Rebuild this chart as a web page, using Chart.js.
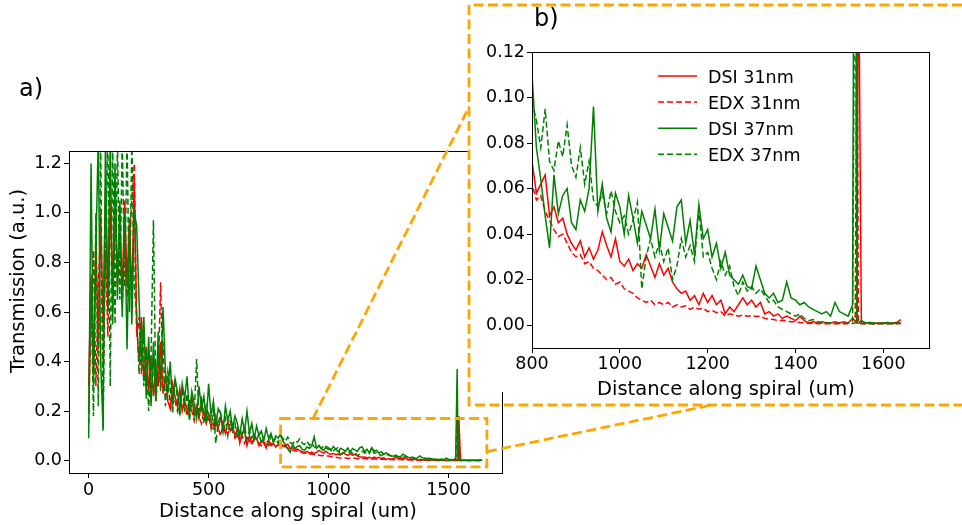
<!DOCTYPE html>
<html>
<head>
<meta charset="utf-8">
<script src="https://cdn.jsdelivr.net/npm/chart.js@4.4.1/dist/chart.umd.min.js"></script>
<style>
  html, body { margin: 0; padding: 0; background: #fff; }
  body { width: 962px; height: 525px; position: relative; overflow: hidden; font-family: "DejaVu Sans", sans-serif; color: #000; }
  canvas { position: absolute; display: block; }
  #mainChart { left: 0; top: 0; }
  #insetChart { left: 469px; top: 0; }
  #guides { left: 0; top: 0; pointer-events: none; }
  .txt { position: absolute; white-space: nowrap; line-height: 1; }
  .tag { font-size: 24px; }
  .axis-title { font-size: 19.5px; }
  #ylabel { left: 8px; top: 373px; transform: rotate(-90deg); transform-origin: 0 0; }
</style>
</head>
<body>
<canvas id="mainChart" width="962" height="525"></canvas>
<canvas id="insetChart" width="493" height="405"></canvas>
<canvas id="guides" width="962" height="525"></canvas>
<div class="txt tag" style="left:19px; top:76px;">a)</div>
<div class="txt tag" style="left:534px; top:6px;">b)</div>
<div class="txt axis-title" id="ylabel">Transmission (a.u.)</div>
<div class="txt axis-title" style="left:159px; top:501px;">Distance along spiral (um)</div>
<div class="txt axis-title" style="left:597px; top:379px;">Distance along spiral (um)</div>
<script>
// distance along the spiral, um (extra samples around the 1540 um spike)
const distanceUm = [
  0, 10, 20, 30, 40, 50, 60, 70, 80, 90,
  100, 110, 120, 130, 140, 150, 160, 170, 180, 190,
  200, 210, 220, 230, 240, 250, 260, 270, 280, 290,
  300, 310, 320, 330, 340, 350, 360, 370, 380, 390,
  400, 410, 420, 430, 440, 450, 460, 470, 480, 490,
  500, 510, 520, 530, 540, 550, 560, 570, 580, 590,
  600, 610, 620, 630, 640, 650, 660, 670, 680, 690,
  700, 710, 720, 730, 740, 750, 760, 770, 780, 790,
  800, 810, 820, 830, 840, 850, 860, 870, 880, 890,
  900, 910, 920, 930, 940, 950, 960, 970, 980, 990,
  1000, 1010, 1020, 1030, 1040, 1050, 1060, 1070, 1080, 1090,
  1100, 1110, 1120, 1130, 1140, 1150, 1160, 1170, 1180, 1190,
  1200, 1210, 1220, 1230, 1240, 1250, 1260, 1270, 1280, 1290,
  1300, 1310, 1320, 1330, 1340, 1350, 1360, 1370, 1380, 1390,
  1400, 1410, 1420, 1430, 1440, 1450, 1460, 1470, 1480, 1490,
  1500, 1510, 1520, 1530, 1536, 1540, 1543, 1550, 1560, 1570, 1580, 1590,
  1600, 1610, 1620, 1630, 1640
];

const dsi31 = [
  0.30, 0.75, 0.35, 0.90, 0.45, 1.00, 0.55, 1.10, 0.62, 1.05,
  0.70, 1.10, 0.75, 0.95, 0.68, 1.05, 0.72, 0.98, 0.65, 1.15,
  0.55, 0.40, 0.58, 0.32, 0.46, 0.28, 0.42, 0.26, 0.38, 0.30,
  0.48, 0.27, 0.34, 0.24, 0.21, 0.31, 0.26, 0.22, 0.29, 0.20,
  0.24, 0.21, 0.19, 0.26, 0.18, 0.22, 0.17, 0.23, 0.20, 0.15,
  0.19, 0.16, 0.14, 0.18, 0.13, 0.17, 0.15, 0.11, 0.16, 0.12,
  0.14, 0.10, 0.13, 0.07, 0.11, 0.12, 0.06, 0.10, 0.07, 0.09,
  0.09, 0.06, 0.08, 0.07, 0.05, 0.085, 0.06, 0.07, 0.055, 0.065,
  0.072, 0.058, 0.062, 0.066, 0.048, 0.052, 0.045, 0.047, 0.040, 0.036,
  0.033, 0.037, 0.030, 0.034, 0.029, 0.033, 0.041, 0.035, 0.030, 0.038,
  0.028, 0.026, 0.029, 0.024, 0.027, 0.025, 0.031, 0.026, 0.021, 0.027,
  0.022, 0.025, 0.019, 0.016, 0.014, 0.015, 0.011, 0.013, 0.009, 0.014,
  0.010, 0.013, 0.009, 0.011, 0.005, 0.008, 0.006, 0.009, 0.012, 0.009,
  0.011, 0.008, 0.010, 0.005, 0.006, 0.004, 0.005, 0.003, 0.004, 0.003,
  0.002, 0.004, 0.002, 0.001, 0.0015, 0.001, 0.0015, 0.001, 0.001, 0.0015,
  0.001, 0.0015, 0.001, 0.003, 0.002, 0.002, 0.18, 0.001, 0.001, 0.0012, 0.0008, 0.001,
  0.001, 0.0008, 0.001, 0.0012, 0.0025
];

const edx31 = [
  0.20, 0.55, 0.85, 0.30, 0.70, 0.95, 0.40, 0.85, 0.50, 1.05,
  0.60, 1.00, 0.70, 0.90, 0.62, 1.00, 0.66, 0.90, 1.05, 1.20,
  0.50, 0.58, 0.35, 0.50, 0.30, 0.44, 0.26, 0.40, 0.24, 0.36,
  0.72, 0.30, 0.26, 0.33, 0.22, 0.28, 0.24, 0.20, 0.27, 0.21,
  0.23, 0.18, 0.25, 0.20, 0.16, 0.21, 0.18, 0.15, 0.20, 0.16,
  0.17, 0.14, 0.12, 0.16, 0.13, 0.10, 0.15, 0.12, 0.11, 0.13,
  0.12, 0.09, 0.11, 0.08, 0.10, 0.07, 0.095, 0.08, 0.065, 0.085,
  0.08, 0.07, 0.06, 0.075, 0.065, 0.055, 0.07, 0.06, 0.058, 0.062,
  0.062, 0.055, 0.057, 0.050, 0.046, 0.042, 0.039, 0.040, 0.036, 0.032,
  0.030, 0.031, 0.027, 0.028, 0.025, 0.024, 0.022, 0.020, 0.021, 0.018,
  0.019, 0.016, 0.015, 0.014, 0.012, 0.011, 0.010, 0.011, 0.009, 0.010,
  0.009, 0.010, 0.008, 0.009, 0.008, 0.0085, 0.007, 0.008, 0.007, 0.0075,
  0.006, 0.0065, 0.0055, 0.006, 0.004, 0.005, 0.0045, 0.004, 0.0045, 0.004,
  0.0042, 0.0038, 0.004, 0.003, 0.0028, 0.0025, 0.002, 0.0022, 0.0018, 0.0015,
  0.0015, 0.0012, 0.001, 0.0008, 0.0009, 0.0007, 0.0008, 0.0006, 0.0007, 0.0006,
  0.0006, 0.0007, 0.0006, 0.0008, 0.001, 0.16, 0.001, 0.0006, 0.0007, 0.0006, 0.0005, 0.0006,
  0.0007, 0.0006, 0.0007, 0.0006, 0.0008
];

const dsi37 = [
  0.09, 1.20, 0.30, 0.85, 1.30, 0.40, 0.13, 1.30, 0.60, 1.30,
  0.55, 1.20, 0.65, 1.05, 0.58, 1.00, 0.45, 0.95, 0.55, 1.00,
  0.95, 0.65, 0.38, 0.58, 0.25, 0.50, 0.22, 0.48, 0.24, 0.52,
  0.30, 0.62, 0.36, 0.27, 0.40, 0.22, 0.33, 0.28, 0.20, 0.31,
  0.25, 0.34, 0.19, 0.28, 0.23, 0.17, 0.30, 0.21, 0.26, 0.16,
  0.31, 0.18, 0.24, 0.14, 0.21, 0.19, 0.12, 0.22, 0.16, 0.20,
  0.13, 0.18, 0.15, 0.10, 0.17, 0.12, 0.20, 0.11, 0.15, 0.09,
  0.14, 0.10, 0.12, 0.08, 0.13, 0.09, 0.11, 0.075, 0.10, 0.09,
  0.110, 0.078, 0.064, 0.048, 0.034, 0.066, 0.049, 0.057, 0.060, 0.045,
  0.042, 0.055, 0.050, 0.060, 0.096, 0.050, 0.062, 0.047, 0.041, 0.058,
  0.052, 0.040, 0.057, 0.047, 0.036, 0.050, 0.044, 0.038, 0.051, 0.033,
  0.049, 0.043, 0.037, 0.052, 0.055, 0.036, 0.046, 0.031, 0.053, 0.038,
  0.042, 0.030, 0.036, 0.025, 0.032, 0.022, 0.020, 0.018, 0.022, 0.017,
  0.016, 0.026, 0.020, 0.014, 0.012, 0.014, 0.010, 0.011, 0.019, 0.012,
  0.011, 0.009, 0.010, 0.008, 0.007, 0.006, 0.005, 0.006, 0.004, 0.010,
  0.006, 0.005, 0.004, 0.009, 0.37, 0.001, 0.001, 0.002, 0.001, 0.0012, 0.001, 0.0008,
  0.001, 0.0012, 0.0008, 0.001, 0.001
];

const edx37 = [
  0.15, 0.70, 0.18, 1.00, 0.22, 1.30, 0.12, 0.90, 1.30, 0.30,
  1.30, 0.55, 1.30, 0.65, 1.30, 0.70, 1.30, 0.60, 1.30, 0.70,
  0.60, 0.35, 0.55, 0.30, 0.45, 0.20, 0.42, 0.97, 0.25, 0.45,
  0.28, 0.48, 0.22, 0.36, 0.30, 0.19, 0.33, 0.25, 0.18, 0.29,
  0.21, 0.27, 0.16, 0.24, 0.19, 0.41, 0.17, 0.26, 0.15, 0.22,
  0.18, 0.13, 0.20, 0.07, 0.15, 0.19, 0.12, 0.17, 0.10, 0.16,
  0.12, 0.15, 0.09, 0.13, 0.10, 0.14, 0.085, 0.12, 0.09, 0.11,
  0.08, 0.11, 0.07, 0.095, 0.085, 0.065, 0.10, 0.075, 0.09, 0.07,
  0.098, 0.090, 0.078, 0.095, 0.072, 0.068, 0.081, 0.074, 0.088, 0.070,
  0.065, 0.078, 0.062, 0.072, 0.055, 0.052, 0.058, 0.049, 0.059, 0.050,
  0.045, 0.048, 0.040, 0.046, 0.054, 0.016, 0.030, 0.038, 0.030, 0.036,
  0.028, 0.034, 0.020, 0.026, 0.038, 0.030, 0.035, 0.028, 0.051, 0.030,
  0.032, 0.025, 0.020, 0.028, 0.022, 0.026, 0.017, 0.013, 0.019, 0.015,
  0.017, 0.014, 0.016, 0.013, 0.010, 0.011, 0.008, 0.007, 0.006, 0.005,
  0.004, 0.005, 0.003, 0.002, 0.0025, 0.0015, 0.001, 0.0012, 0.001, 0.0008,
  0.001, 0.0008, 0.001, 0.0015, 0.20, 0.001, 0.0008, 0.0008, 0.0007, 0.0008, 0.0006, 0.0008,
  0.0007, 0.0008, 0.0006, 0.0007, 0.001
];

const seriesLabels = ['DSI 31nm', 'EDX 31nm', 'DSI 37nm', 'EDX 37nm'];
const seriesValues = [dsi31, edx31, dsi37, edx37];
const seriesColors = ['#ff0000', '#ff0000', '#008000', '#008000'];
const seriesDashes = [[], [6, 3], [], [6, 3]];

const mainXTicks = [0, 500, 1000, 1500];
const mainYTicks = [0.0, 0.2, 0.4, 0.6, 0.8, 1.0, 1.2];
const insetXTicks = [800, 1000, 1200, 1400, 1600];
const insetYTicks = [0.00, 0.02, 0.04, 0.06, 0.08, 0.10, 0.12];

// zoomed region marked on the overview plot (data units)
const zoomBox = { xMin: 800, xMax: 1660, yMin: -0.025, yMax: 0.17 };

const guideColor = '#ffa500';
const tickFont = { family: 'DejaVu Sans', size: 17.5 };

function buildDatasets() {
  return seriesLabels.map((label, i) => ({
    label,
    data: distanceUm.map((d, k) => ({ x: d, y: seriesValues[i][k] })),
    borderColor: seriesColors[i],
    borderDash: seriesDashes[i],
    borderWidth: 1.5,
    pointRadius: 0,
    tension: 0,
    fill: false,
    // later series sit on top
    order: seriesLabels.length - i
  }));
}

function axis(min, max, tickValues, fmt, size, pad) {
  return {
    type: 'linear',
    min, max,
    afterBuildTicks: s => { s.ticks = tickValues.map(v => ({ value: v })); },
    afterFit: s => { if (s.isHorizontal()) s.height = size; else s.width = size; },
    grid: { drawOnChartArea: false, tickLength: 5, color: '#000', lineWidth: 1 },
    border: { display: false },
    ticks: { font: tickFont, color: '#000', padding: pad, maxRotation: 0, autoSkip: false, callback: fmt }
  };
}

// black box round the plotting area
const axesFrame = {
  id: 'axesFrame',
  afterDraw(chart) {
    const { ctx, chartArea: a } = chart;
    ctx.save();
    ctx.strokeStyle = '#000';
    ctx.lineWidth = 1;
    ctx.strokeRect(a.left + 0.5, a.top + 0.5, a.right - a.left, a.bottom - a.top);
    ctx.restore();
  }
};

// the inset sits on a white patch over the overview's top right corner
const insetPaper = {
  id: 'insetPaper',
  beforeDraw(chart) {
    const ctx = chart.ctx;
    ctx.save();
    ctx.fillStyle = '#fff';
    ctx.fillRect(0, 0, chart.width, 392);
    ctx.restore();
  }
};

const insetLegend = {
  id: 'insetLegend',
  afterDatasetsDraw(chart) {
    const ctx = chart.ctx;
    ctx.save();
    ctx.font = '17.5px "DejaVu Sans"';
    ctx.fillStyle = '#000';
    ctx.textBaseline = 'alphabetic';
    seriesLabels.forEach((label, i) => {
      const base = 82.7 + i * 26.1;
      ctx.strokeStyle = seriesColors[i];
      ctx.lineWidth = 1.5;
      ctx.setLineDash(seriesDashes[i]);
      ctx.beginPath();
      ctx.moveTo(189, base - 6.7);
      ctx.lineTo(228, base - 6.7);
      ctx.stroke();
      ctx.fillText(label, 239, base);
    });
    ctx.restore();
  }
};

const mainChart = new Chart(document.getElementById('mainChart'), {
  type: 'line',
  data: { datasets: buildDatasets() },
  options: {
    responsive: false,
    animation: false,
    layout: { padding: { left: 0, top: 151, right: 460, bottom: 0 } },
    plugins: { legend: { display: false }, tooltip: { enabled: false } },
    scales: {
      x: axis(-82, 1723, mainXTicks, v => String(v), 52, 2),
      y: axis(-0.05, 1.25, mainYTicks, v => v.toFixed(1), 69, 2)
    }
  },
  plugins: [axesFrame]
});

const insetChart = new Chart(document.getElementById('insetChart'), {
  type: 'line',
  data: { datasets: buildDatasets() },
  options: {
    responsive: false,
    animation: false,
    layout: { padding: { left: 0, top: 52, right: 33, bottom: 0 } },
    plugins: { legend: { display: false }, tooltip: { enabled: false } },
    scales: {
      x: axis(800, 1704, insetXTicks, v => String(v), 57, 1),
      y: axis(-0.01, 0.12, insetYTicks, v => v.toFixed(2), 63, 2)
    }
  },
  plugins: [insetPaper, insetLegend, axesFrame]
});

// orange dashed zoom box, inset frame and the two connecting lines
function drawGuides() {
  const ctx = document.getElementById('guides').getContext('2d');
  const xs = mainChart.scales.x;
  const ys = mainChart.scales.y;
  ctx.strokeStyle = guideColor;
  ctx.lineWidth = 2.8;
  ctx.setLineDash([10, 4.5]);

  const bx0 = xs.getPixelForValue(zoomBox.xMin);
  const bx1 = xs.getPixelForValue(zoomBox.xMax);
  const by0 = ys.getPixelForValue(zoomBox.yMax);
  const by1 = ys.getPixelForValue(zoomBox.yMin);
  ctx.strokeRect(bx0, by0, bx1 - bx0, by1 - by0);

  const fl = 469, ft = 5, fb = 405;
  ctx.beginPath();
  ctx.moveTo(962, ft); ctx.lineTo(fl, ft); ctx.lineTo(fl, fb); ctx.lineTo(962, fb);
  ctx.stroke();

  ctx.beginPath();
  ctx.moveTo(xs.getPixelForValue(935), by0);
  ctx.lineTo(fl, 107);
  ctx.stroke();

  ctx.beginPath();
  ctx.moveTo(bx1, ys.getPixelForValue(0.036));
  ctx.lineTo(712, fb);
  ctx.stroke();
}
drawGuides();
</script>
</body>
</html>
